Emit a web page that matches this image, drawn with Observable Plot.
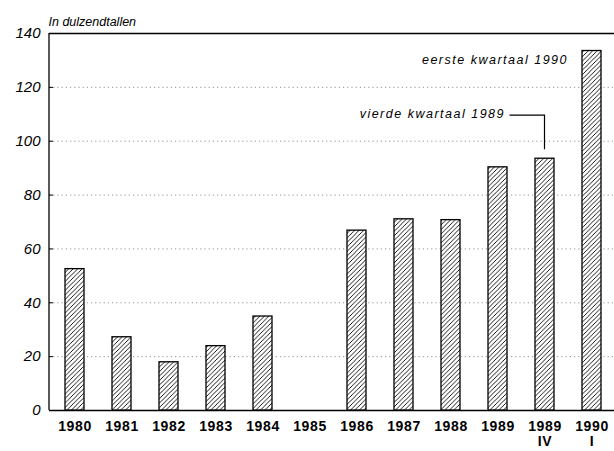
<!DOCTYPE html>
<html><head><meta charset="utf-8">
<script src="https://cdn.jsdelivr.net/npm/d3@7"></script>
<script src="https://cdn.jsdelivr.net/npm/@observablehq/plot@0.6"></script>
<style>
body{margin:0;background:#fff}
#chart svg{overflow:hidden}
.note text{letter-spacing:1.5px}
.xax text{letter-spacing:0.6px}
</style>
</head><body><div id="chart"></div>
<script>
const categories = ["1980","1981","1982","1983","1984","1985","1986","1987","1988","1989","1989 IV","1990 I"];
const tickLabels = ["1980","1981","1982","1983","1984","1985","1986","1987","1988","1989","1989\nIV","1990\nI"];
const values = [52.5, 27.2, 17.9, 23.9, 34.9, null, 66.8, 71, 70.7, 90.3, 93.5, 133.5];
const yTicks = [0, 20, 40, 60, 80, 100, 120, 140];
const gridTicks = [20, 40, 60, 80, 100, 120];
const title = "In dulzendtallen";
const noteCats = ["1990 I", "1989 IV"];
const noteValues = [130, 110];
const noteTexts = ["eerste kwartaal 1990", "vierde kwartaal 1989"];
const leaderCat = "1989 IV";
const leaderTop = 109.5;
const leaderBottom = 96.8;

const data = categories.map((c, i) => ({cat: c, value: values[i]})).filter(d => d.value != null);
const notes = noteCats.map((c, i) => ({cat: c, value: noteValues[i], text: noteTexts[i]}));

function leader(index, scales) {
  const xs = scales.x, ys = scales.y;
  let bw = 0;
  if (typeof xs.bandwidth === "function") bw = xs.bandwidth();
  else if (scales.scales && scales.scales.x) bw = scales.scales.x.bandwidth || 0;
  const cx = xs(leaderCat) + bw / 2;
  const g = d3.create("svg:g");
  g.append("path")
    .attr("d", `M${cx - 35},${ys(leaderTop)}H${cx}V${ys(leaderBottom)}`)
    .attr("fill", "none").attr("stroke", "black").attr("stroke-width", 1.2);
  return g.node();
}

function leftLine(index, scales, values, dims) {
  const g = d3.create("svg:g");
  g.append("line")
    .attr("x1", dims.marginLeft).attr("x2", dims.marginLeft)
    .attr("y1", dims.marginTop).attr("y2", dims.height - dims.marginBottom)
    .attr("stroke", "black").attr("stroke-width", 1.3);
  return g.node();
}

const chart = Plot.plot({
  width: 614,
  height: 451,
  marginLeft: 49,
  marginRight: 0,
  marginTop: 33,
  marginBottom: 41,
  style: {fontFamily: "Liberation Sans, Arial, sans-serif", background: "#fff", color: "black"},
  x: {domain: categories, range: [49, 617], paddingInner: 0.6, paddingOuter: 0.27, align: 0.5},
  y: {domain: [0, 140]},
  marks: [
    Plot.ruleY(gridTicks, {stroke: "#777", strokeWidth: 0.8, strokeDasharray: "1.2,3"}),
    Plot.ruleY([0, 140], {stroke: "black", strokeWidth: 1.3}),
    leftLine,
    Plot.barY(data, {x: "cat", y: "value", fill: "white"}),
    Plot.barY(data, {x: "cat", y: "value", fill: "url(#hatch)", stroke: "black", strokeWidth: 1.3}),
    Plot.axisY({ticks: yTicks, tickSize: -4, tickPadding: 13, fontStyle: "italic", fontSize: 15, label: null}),
    Plot.axisX({tickSize: 0, tickPadding: 9, fontWeight: "bold", fontSize: 14, lineHeight: 1.12, label: null,
      className: "xax", tickFormat: d => tickLabels[categories.indexOf(d)]}),
    Plot.text([notes[0]], {x: "cat", y: "value", text: "text", textAnchor: "end",
      dx: -24, fontStyle: "italic", fontSize: 12.5, className: "note"}),
    Plot.text([notes[1]], {x: "cat", y: "value", text: "text", textAnchor: "end",
      dx: -40, fontStyle: "italic", fontSize: 12.5, className: "note"}),
    leader,
    Plot.text([title], {frameAnchor: "top-left", dy: -16, dx: -1, textAnchor: "start", fontStyle: "italic", fontSize: 12.5})
  ]
});

const defs = d3.create("svg:defs");
const pat = defs.append("pattern").attr("id", "hatch").attr("patternUnits", "userSpaceOnUse")
  .attr("width", 4.5).attr("height", 4.5);
pat.append("path").attr("d", "M-1,1L1,-1M0,4.5L4.5,0M3.5,5.5L5.5,3.5")
  .attr("stroke", "black").attr("stroke-width", 0.9);
chart.insertBefore(defs.node(), chart.firstChild);
document.getElementById("chart").append(chart);
</script>
</body></html>
